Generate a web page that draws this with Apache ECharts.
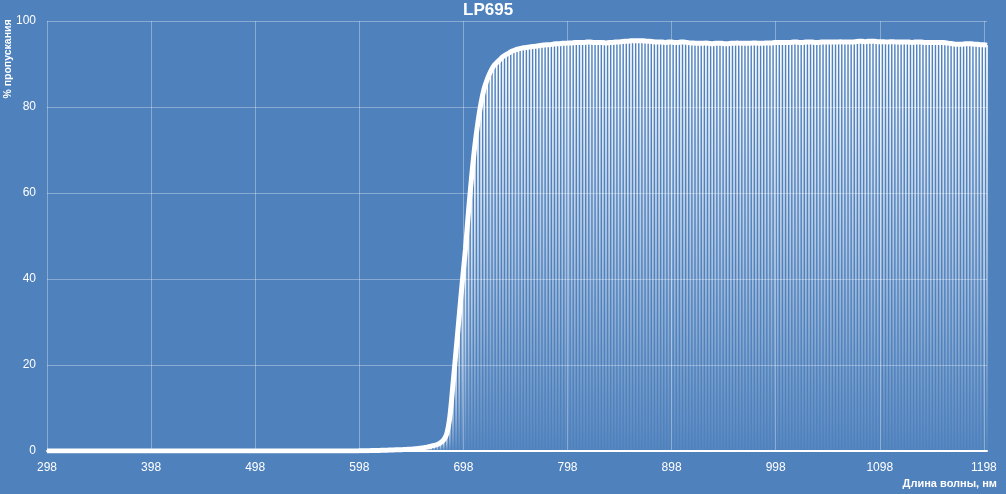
<!DOCTYPE html>
<html>
<head>
<meta charset="utf-8">
<script src="https://cdn.jsdelivr.net/npm/echarts@6/dist/echarts.min.js"></script>
<style>
html,body{margin:0;padding:0;background:#4f81bd;}
#chart{width:1006px;height:494px;}
</style>
</head>
<body>
<div id="chart"></div>
<script>
// Wavelength sampling grid (nm), 3 nm step, 298 .. 1201
var wavelengths = [
298,301,304,307,310,313,316,319,322,325,328,331,334,337,340,343,346,349,352,355,
358,361,364,367,370,373,376,379,382,385,388,391,394,397,400,403,406,409,412,415,
418,421,424,427,430,433,436,439,442,445,448,451,454,457,460,463,466,469,472,475,
478,481,484,487,490,493,496,499,502,505,508,511,514,517,520,523,526,529,532,535,
538,541,544,547,550,553,556,559,562,565,568,571,574,577,580,583,586,589,592,595,
598,601,604,607,610,613,616,619,622,625,628,631,634,637,640,643,646,649,652,655,
658,661,664,667,670,673,676,679,682,685,688,691,694,697,700,703,706,709,712,715,
718,721,724,727,730,733,736,739,742,745,748,751,754,757,760,763,766,769,772,775,
778,781,784,787,790,793,796,799,802,805,808,811,814,817,820,823,826,829,832,835,
838,841,844,847,850,853,856,859,862,865,868,871,874,877,880,883,886,889,892,895,
898,901,904,907,910,913,916,919,922,925,928,931,934,937,940,943,946,949,952,955,
958,961,964,967,970,973,976,979,982,985,988,991,994,997,1000,1003,1006,1009,1012,1015,
1018,1021,1024,1027,1030,1033,1036,1039,1042,1045,1048,1051,1054,1057,1060,1063,1066,1069,1072,1075,
1078,1081,1084,1087,1090,1093,1096,1099,1102,1105,1108,1111,1114,1117,1120,1123,1126,1129,1132,1135,
1138,1141,1144,1147,1150,1153,1156,1159,1162,1165,1168,1171,1174,1177,1180,1183,1186,1189,1192,1195,
1198,1201
];

// Transmission (%) — blocking region 298 .. 607 nm
var transBlocking = [
0,0,0,0,0,0,0,0,0,0,0,0,0,0,0,0,0,0,0,0,
0,0,0,0,0,0,0,0,0,0,0,0,0,0,0,0,0,0,0,0,
0,0,0,0,0,0,0,0,0,0,0,0,0,0,0,0,0,0,0,0,
0,0,0,0,0,0,0,0,0,0,0,0,0,0,0,0,0,0,0,0,
0,0,0,0,0,0,0,0,0,0,0,0,0,0,0,0,0,0,0,0,
0.03,0.05,0.06,0.08
];
// Transmission (%) — edge region 610 .. 799 nm
var transEdge = [
0.1,0.1,0.12,0.15,0.18,0.2,0.22,0.25,0.28,0.3,
0.33,0.37,0.4,0.45,0.5,0.6,0.7,0.8,0.95,1.1,
1.3,1.5,1.9,2.6,4.0,8.0,15.5,23.5,31.5,39.5,
47,56,64,71,76.5,81.0,84.3,86.5,88.2,89.5,
90.3,91.0,91.7,92.2,92.6,93.0,93.3,93.5,93.7,93.8,
93.9,94.0,94.1,94.2,94.3,94.4,94.5,94.5,94.6,94.7,
94.7,94.8,94.8,94.9
];
// Transmission (%) — pass band 802 .. 1201 nm
var transPass = [
94.9,95.0,95.0,95.0,95.0,95.1,95.1,95.0,95.0,
95.0,95.0,94.9,95.0,95.0,95.1,95.1,95.2,95.3,95.3,
95.4,95.4,95.4,95.4,95.4,95.3,95.3,95.2,95.1,
95.1,95.1,95.0,95.1,95.1,95.0,95.0,95.1,95.1,95.0,94.9,94.9,94.8,
94.8,94.8,94.9,94.8,94.7,94.8,94.8,94.8,94.7,94.7,94.8,94.8,94.9,94.8,94.8,94.8,94.8,94.9,94.9,94.8,94.8,94.9,94.9,94.9,95.0,95.0,
95.0,95.0,95.0,95.0,95.1,95.1,95.0,95.0,95.1,95.1,95.1,95.0,95.0,95.1,95.1,95.1,95.1,95.1,95.1,95.2,95.1,95.1,95.1,
95.1,95.2,95.3,95.3,95.2,95.3,95.3,95.3,95.2,95.2,
95.2,95.1,95.2,95.2,95.1,95.1,95.1,95.1,95.1,95.0,
95.1,95.1,95.1,95.0,95.0,95.0,95.0,95.0,95.0,95.0,
94.9,94.8,94.7,94.6,94.6,94.6,94.7,94.7,94.7,94.6,
94.6,94.5,94.5,94.4
];

var xTicks = [298,398,498,598,698,798,898,998,1098,1198];
var yTicks = [0,20,40,60,80,100];

var titleText = 'LP695';
var yName = '% пропускания';
var xName = 'Длина волны, нм';

var transmission = transBlocking.concat(transEdge, transPass);
var points = wavelengths.map(function (w, i) { return [w, transmission[i]]; });

var chart = echarts.init(document.getElementById('chart'), null, {renderer: 'canvas'});
var gridColor = 'rgba(255,255,255,0.32)';
var font = '"Liberation Sans", Arial, sans-serif';

chart.setOption({
  backgroundColor: '#4f81bd',
  animation: false,
  grid: {left: 47, right: 19, top: 21, bottom: 43, containLabel: false},
  xAxis: {
    type: 'value',
    min: xTicks[0],
    max: wavelengths[wavelengths.length - 1],
    interval: 100,
    axisLine: {show: true, onZero: true, lineStyle: {color: '#ffffff', width: 2}},
    axisTick: {show: false},
    axisLabel: {
      color: '#ffffff', fontSize: 12, fontFamily: font, margin: 11,
      showMaxLabel: false,
      formatter: function (v) { return xTicks.indexOf(Math.round(v)) >= 0 ? String(Math.round(v)) : ''; }
    },
    splitLine: {show: true, showMaxLine: false, lineStyle: {color: gridColor, width: 1}}
  },
  yAxis: {
    type: 'value',
    min: yTicks[0],
    max: yTicks[yTicks.length - 1],
    interval: 20,
    axisLine: {show: false},
    axisTick: {show: false},
    axisLabel: {color: '#ffffff', fontSize: 12, fontFamily: font, margin: 11},
    splitLine: {show: true, lineStyle: {color: gridColor, width: 1}}
  },
  series: [
    {
      type: 'bar',
      data: points,
      barWidth: 1.7,
      silent: true,
      itemStyle: {
        color: new echarts.graphic.LinearGradient(0, 0, 0, 1, [
          {offset: 0, color: 'rgba(255,255,255,1)'},
          {offset: 0.5, color: 'rgba(255,255,255,0.55)'},
          {offset: 1, color: 'rgba(255,255,255,0.04)'}
        ])
      },
      z: 1
    },
    {
      type: 'line',
      data: points,
      smooth: 0.3,
      showSymbol: false,
      silent: true,
      lineStyle: {color: '#ffffff', width: 5},
      z: 3
    }
  ],
  graphic: [
    {
      type: 'text', left: 463, top: 2,
      style: {text: titleText, fill: '#ffffff', font: 'bold 17px ' + font}
    },
    {
      type: 'text', x: 8, y: 59, rotation: Math.PI / 2,
      style: {text: yName, fill: '#ffffff', font: 'bold 10.5px ' + font, align: 'center', verticalAlign: 'middle'}
    },
    {
      type: 'text', x: 997, y: 484,
      style: {text: xName, fill: '#ffffff', font: 'bold 11px ' + font, align: 'right', verticalAlign: 'middle'}
    }
  ]
});
</script>
</body>
</html>
